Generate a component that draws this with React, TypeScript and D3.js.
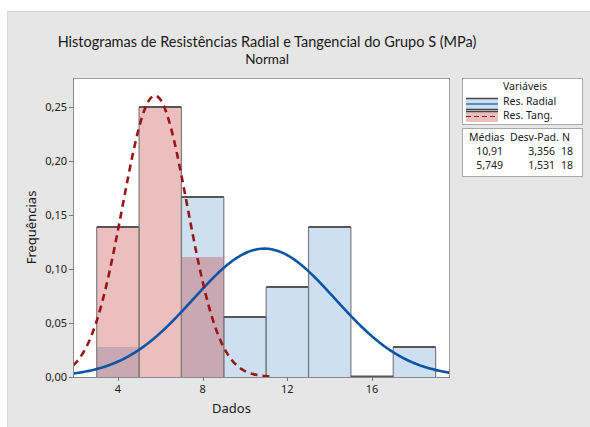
import React from "react";
import * as d3 from "d3";

const binEdges = [3, 5, 7, 9, 11, 13, 15, 17, 19];
const radialDensity = [0.0278, 0, 0.1667, 0.0556, 0.0833, 0.1389, 0, 0.0278];
const tangDensity = [0.1389, 0.25, 0.1111, 0, 0, 0, 0, 0];
const xTicks = [4, 8, 12, 16];
const yTicks = [0, 0.05, 0.1, 0.15, 0.2, 0.25];
const statsMean = ["10,91", "5,749"];
const statsSd = ["3,356", "1,531"];
const statsN = ["18", "18"];
const meanRadial = 10.91;
const sdRadial = 3.356;
const meanTang = 5.749;
const sdTang = 1.531;

const W = 590;
const H = 427;
const FONT = "'Noto Sans', 'Open Sans', sans-serif";
const TITLE_FONT = "Lato, 'Noto Sans', sans-serif";

function pdf(x: number, m: number, s: number) {
  return Math.exp(-0.5 * ((x - m) / s) ** 2) / (s * Math.sqrt(2 * Math.PI));
}

export default function App() {
  const left = 73, right = 450, top = 78, bottom = 377;
  const x = d3.scaleLinear().domain([1.88, 19.68]).range([left, right]);
  const y = d3.scaleLinear().domain([0, 0.2769]).range([bottom, top]);

  const xsR = d3.range(1.88, 19.68 + 0.001, 0.05);
  const xsT = d3.range(1.88, 11.3, 0.05);
  const line = d3
    .line<[number, number]>()
    .x((d) => x(d[0]))
    .y((d) => y(d[1]))
    .curve(d3.curveLinear);
  const radialPath = line(xsR.map((v) => [v, pdf(v, meanRadial, sdRadial)]));
  const tangPath = line(xsT.map((v) => [v, pdf(v, meanTang, sdTang)]));

  const bins = binEdges.slice(0, -1).map((e, i) => ({ x0: e, x1: binEdges[i + 1], r: radialDensity[i], t: tangDensity[i] }));

  const blueFill = "#cddff0";
  const redOverlay = "rgba(192,42,42,0.3)";

  return (
    <svg width={W} height={H} style={{ position: "absolute", left: 0, top: 0 }} fontFamily={FONT}>
      <defs>
        <clipPath id="plotclip">
          <rect x={left} y={top} width={right - left} height={bottom - top} />
        </clipPath>
      </defs>
      <rect x={0} y={0} width={W} height={H} fill="#ffffff" />
      <rect x={7} y={11} width={W - 7} height={H - 11} fill="#e6e6e6" />
      <line x1={7} y1={11.5} x2={W} y2={11.5} stroke="#cfcfcf" />
      <line x1={7.5} y1={11} x2={7.5} y2={H} stroke="#d8d8d8" />

      <text x={267} y={47} textAnchor="middle" fontSize={14.5} fill="#1a1a1a" fontFamily={TITLE_FONT}>
        Histogramas de Resistências Radial e Tangencial do Grupo S (MPa)
      </text>
      <text x={267} y={64} textAnchor="middle" fontSize={13.5} fill="#1a1a1a" fontFamily={TITLE_FONT}>
        Normal
      </text>

      <rect x={left} y={top} width={right - left} height={bottom - top} fill="#ffffff" />

      <g clipPath="url(#plotclip)">
        {bins.map((b, i) =>
          b.r > 0 ? (
            <rect key={"rb" + i} x={x(b.x0)} y={y(b.r)} width={x(b.x1) - x(b.x0)} height={y(0) - y(b.r)} fill={blueFill} />
          ) : null
        )}
        {bins.map((b, i) =>
          b.t > 0 ? (
            <rect key={"tb" + i} x={x(b.x0)} y={y(b.t)} width={x(b.x1) - x(b.x0)} height={y(0) - y(b.t)} fill={redOverlay} />
          ) : null
        )}
        {bins.map((b, i) => {
          const hm = Math.max(b.r, b.t);
          if (hm === 0) return null;
          return (
            <g key={"edge" + i}>
              <line x1={x(b.x0)} x2={x(b.x0)} y1={y(0)} y2={y(hm)} stroke="#7d7d7d" strokeWidth={1.2} />
              <line x1={x(b.x1)} x2={x(b.x1)} y1={y(0)} y2={y(hm)} stroke="#7d7d7d" strokeWidth={1.2} />
              <line x1={x(b.x0)} x2={x(b.x1)} y1={y(hm)} y2={y(hm)} stroke="#555" strokeWidth={2} />
            </g>
          );
        })}
        {bins.map((b, i) =>
          b.r === 0 && b.t === 0 && b.x0 > 12 && b.x0 < 17 ? (
            <line key={"zero" + i} x1={x(b.x0)} x2={x(b.x1)} y1={y(0) - 0.5} y2={y(0) - 0.5} stroke="#555" strokeWidth={2} />
          ) : null
        )}
        <path d={radialPath || ""} fill="none" stroke="#0a55a5" strokeWidth={2.6} />
        <path d={tangPath || ""} fill="none" stroke="#9a1616" strokeWidth={2.6} strokeDasharray="7,5" />
      </g>

      {/* frame */}
      <line x1={left} y1={top + 0.5} x2={right} y2={top + 0.5} stroke="#a0a0a0" />
      <line x1={right - 0.5} y1={top} x2={right - 0.5} y2={bottom} stroke="#a0a0a0" />
      <line x1={left + 0.5} y1={top} x2={left + 0.5} y2={bottom + 0.5} stroke="#888" />
      <line x1={left} y1={bottom + 0.5} x2={right} y2={bottom + 0.5} stroke="#888" />

      {yTicks.map((t) => (
        <g key={"yt" + t}>
          <line x1={left - 4} x2={left} y1={Math.round(y(t)) + 0.5} y2={Math.round(y(t)) + 0.5} stroke="#777" />
          <text x={left - 6} y={y(t) + 4} textAnchor="end" fontSize={11} fill="#222">
            {d3.format(".2f")(t).replace(".", ",")}
          </text>
        </g>
      ))}
      {xTicks.map((t) => (
        <g key={"xt" + t}>
          <line x1={Math.round(x(t)) + 0.5} x2={Math.round(x(t)) + 0.5} y1={bottom} y2={bottom + 4} stroke="#777" />
          <text x={x(t)} y={bottom + 16} textAnchor="middle" fontSize={11} fill="#222">
            {t}
          </text>
        </g>
      ))}
      <text x={(left + right) / 2 - 30} y={413} textAnchor="middle" fontSize={13} fill="#1a1a1a">
        Dados
      </text>
      <text transform={`translate(36,${(top + bottom) / 2}) rotate(-90)`} textAnchor="middle" fontSize={13} fill="#1a1a1a">
        Frequências
      </text>

      {/* legend */}
      <rect x={462.5} y={78.5} width={120} height={46} fill="#ffffff" stroke="#aaa" />
      <text x={525} y={90} textAnchor="middle" fontSize={10.5} fill="#222">
        Variáveis
      </text>
      <rect x={466} y={98} width={32} height={12} fill={blueFill} />
      <line x1={466} x2={498} y1={98.5} y2={98.5} stroke="#444" strokeWidth={1.5} />
      <line x1={466} x2={498} y1={109.5} y2={109.5} stroke="#444" strokeWidth={1.5} />
      <line x1={466} x2={498} y1={104} y2={104} stroke="#0a55a5" strokeWidth={1.2} />
      <text x={503} y={105} fontSize={10.5} fill="#222">
        Res. Radial
      </text>
      <rect x={466} y={111} width={32} height={11} fill="#ebbfbf" />
      <line x1={466} x2={498} y1={111.5} y2={111.5} stroke="#444" strokeWidth={1.5} />
      <line x1={466} x2={498} y1={116.5} y2={116.5} stroke="#9a1616" strokeWidth={1.2} strokeDasharray="5,3" />
      <text x={503} y={119} fontSize={10.5} fill="#222">
        Res. Tang.
      </text>

      <rect x={462.5} y={128.5} width={120} height={48} fill="#ffffff" stroke="#aaa" />
      <text x={469} y={141} fontSize={10.5} fill="#222">Médias</text>
      <text x={510} y={141} fontSize={10.5} fill="#222">Desv-Pad.</text>
      <text x={562} y={141} fontSize={10.5} fill="#222">N</text>
      {statsMean.map((m, i) => (
        <g key={"st" + i}>
          <text x={503} y={155 + i * 13.5} textAnchor="end" fontSize={10.5} fill="#222">{m}</text>
          <text x={555} y={155 + i * 13.5} textAnchor="end" fontSize={10.5} fill="#222">{statsSd[i]}</text>
          <text x={573} y={155 + i * 13.5} textAnchor="end" fontSize={10.5} fill="#222">{statsN[i]}</text>
        </g>
      ))}
    </svg>
  );
}
